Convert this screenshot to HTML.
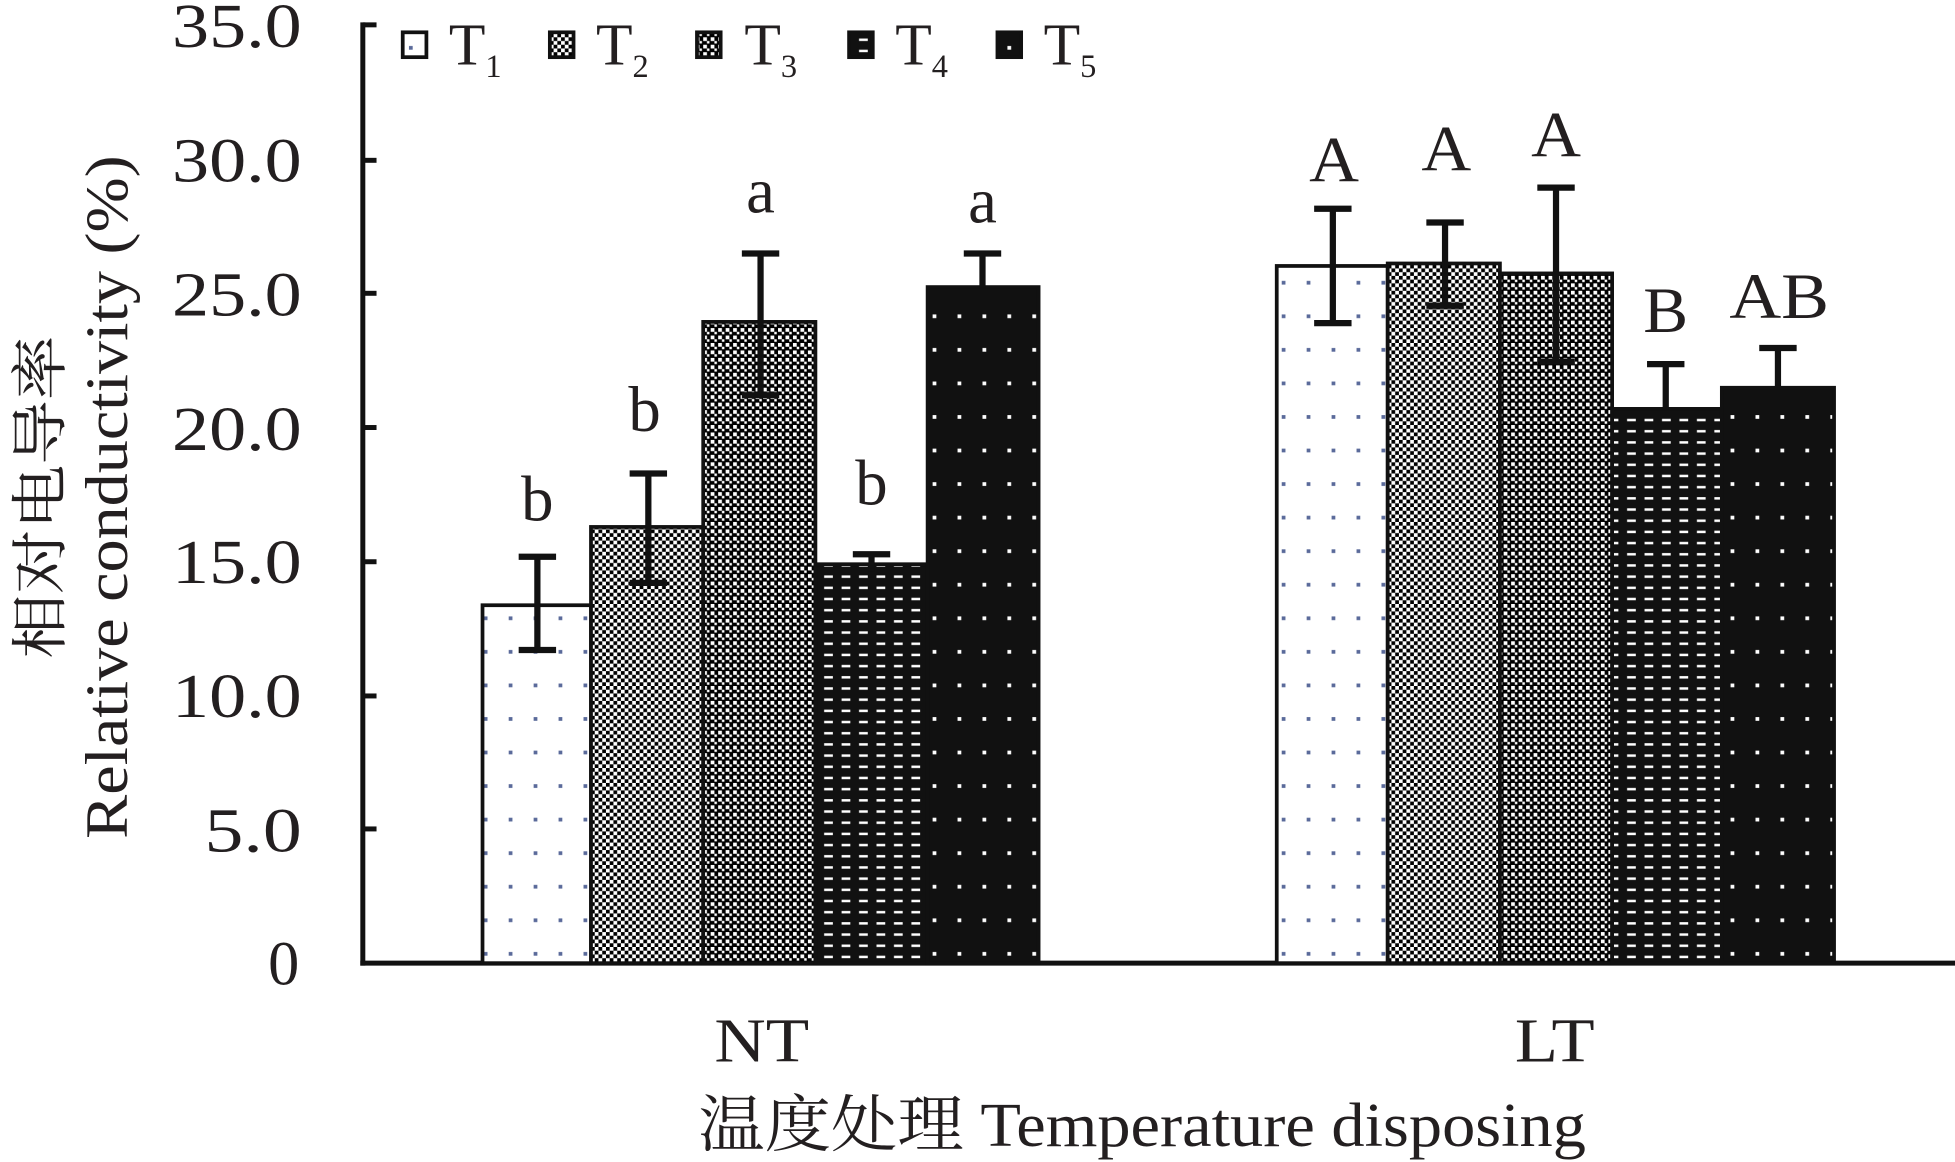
<!DOCTYPE html>
<html><head><meta charset="utf-8"><style>
html,body{margin:0;padding:0;background:#fff;width:1955px;height:1162px;overflow:hidden}
svg{display:block}
text{font-family:"Liberation Serif","Noto Serif CJK SC",serif;fill:#231f20}
</style></head><body>
<svg width="1955" height="1162" viewBox="0 0 1568 935" preserveAspectRatio="none" xmlns="http://www.w3.org/2000/svg">
<defs>
<pattern id="p1" width="20" height="27" patternUnits="userSpaceOnUse"><rect width="20" height="27" fill="#fff"/><rect x="8" y="10" width="3" height="3" fill="#5a6a9a"/></pattern>
<pattern id="p2" width="6" height="6" patternUnits="userSpaceOnUse"><rect width="6" height="6" fill="#fff"/><rect width="3" height="3" fill="#000"/><rect x="3" y="3" width="3" height="3" fill="#000"/></pattern>
<pattern id="p3" width="6" height="6" patternUnits="userSpaceOnUse"><rect width="6" height="6" fill="#000"/><rect width="3" height="3" fill="#fff"/><rect x="3" y="3" width="2" height="2" fill="#fff"/></pattern>
<pattern id="p4" width="14" height="9" patternUnits="userSpaceOnUse"><rect width="14" height="9" fill="#111"/><rect x="3" y="4" width="7" height="2" fill="#fff"/></pattern>
<pattern id="p5" width="20" height="27" patternUnits="userSpaceOnUse"><rect width="20" height="27" fill="#111"/><rect x="8" y="10" width="3" height="3" fill="#fff"/></pattern>
</defs>
<line x1="291" y1="18" x2="291" y2="777" stroke="#111" stroke-width="4"/>
<line x1="289" y1="775" x2="1568" y2="775" stroke="#111" stroke-width="4"/>
<g stroke="#111" stroke-width="4">
<line x1="291" y1="20" x2="302" y2="20"/><line x1="291" y1="129" x2="302" y2="129"/><line x1="291" y1="236" x2="302" y2="236"/><line x1="291" y1="344" x2="302" y2="344"/><line x1="291" y1="452" x2="302" y2="452"/><line x1="291" y1="560" x2="302" y2="560"/><line x1="291" y1="667" x2="302" y2="667"/>
</g>
<g font-size="50" text-anchor="end">
<text x="242" y="38" textLength="104" lengthAdjust="spacingAndGlyphs">35.0</text><text x="242" y="146" textLength="104" lengthAdjust="spacingAndGlyphs">30.0</text><text x="242" y="254" textLength="104" lengthAdjust="spacingAndGlyphs">25.0</text><text x="242" y="362" textLength="104" lengthAdjust="spacingAndGlyphs">20.0</text><text x="242" y="469" textLength="104" lengthAdjust="spacingAndGlyphs">15.0</text><text x="242" y="577" textLength="104" lengthAdjust="spacingAndGlyphs">10.0</text><text x="242" y="685" textLength="78" lengthAdjust="spacingAndGlyphs">5.0</text><text x="240" y="792">0</text>
</g>
<text transform="translate(48,400) rotate(-90)" font-size="46" text-anchor="middle" textLength="260" lengthAdjust="spacingAndGlyphs">相对电导率</text>
<text transform="translate(102,400) rotate(-90)" font-size="48" text-anchor="middle" textLength="550" lengthAdjust="spacingAndGlyphs">Relative conductivity (%)</text>
<g stroke="#111" stroke-width="3">
<rect x="387" y="487" width="87" height="288" fill="url(#p1)"/>
<rect x="474" y="424" width="90" height="351" fill="url(#p2)"/>
<rect x="564" y="259" width="90" height="516" fill="url(#p3)"/>
<rect x="654" y="454" width="90" height="321" fill="url(#p4)"/>
<rect x="744" y="231" width="89" height="544" fill="url(#p5)"/>
<rect x="1024" y="214" width="89" height="561" fill="url(#p1)"/>
<rect x="1113" y="212" width="90" height="563" fill="url(#p2)"/>
<rect x="1203" y="220" width="90" height="555" fill="url(#p3)"/>
<rect x="1293" y="329" width="88" height="446" fill="url(#p4)"/>
<rect x="1381" y="312" width="90" height="463" fill="url(#p5)"/>
</g>
<g stroke="#111" stroke-width="5" fill="none">
<path d="M431 448V523M416 448H446M416 523H446"/>
<path d="M520 381V469M505 381H535M505 469H535"/>
<path d="M610 204V318M595 204H625M595 318H625"/>
<path d="M699 446V460M684 446H714"/>
<path d="M788 204V231M773 204H803"/>
<path d="M1069 168V260M1054 168H1084M1054 260H1084"/>
<path d="M1159 179V246M1144 179H1174M1144 246H1174"/>
<path d="M1248 151V291M1233 151H1263M1233 291H1263"/>
<path d="M1336 293V330M1321 293H1351"/>
<path d="M1426 280V313M1411 280H1441"/>
</g>
<g font-size="52" text-anchor="middle">
<text x="431" y="419">b</text><text x="517" y="347">b</text><text x="610" y="171">a</text><text x="699" y="406">b</text><text x="788" y="179">a</text>
<text x="1070" y="146" textLength="40" lengthAdjust="spacingAndGlyphs">A</text><text x="1160" y="137" textLength="40" lengthAdjust="spacingAndGlyphs">A</text><text x="1248" y="126" textLength="40" lengthAdjust="spacingAndGlyphs">A</text><text x="1336" y="267" textLength="36" lengthAdjust="spacingAndGlyphs">B</text><text x="1427" y="256" textLength="80" lengthAdjust="spacingAndGlyphs">AB</text>
</g>
<g stroke="#111" stroke-width="3">
<rect x="323" y="26" width="19" height="20" fill="url(#p1)"/>
<rect x="441" y="26" width="19" height="20" fill="url(#p2)"/>
<rect x="559" y="26" width="19" height="20" fill="url(#p3)"/>
<rect x="681" y="26" width="19" height="20" fill="url(#p4)"/>
<rect x="800" y="26" width="19" height="20" fill="url(#p5)"/>
</g>
<g font-size="48">
<text x="360" y="52">T<tspan font-size="26" dy="10">1</tspan></text>
<text x="478" y="52">T<tspan font-size="26" dy="10">2</tspan></text>
<text x="597" y="52">T<tspan font-size="26" dy="10">3</tspan></text>
<text x="718" y="52">T<tspan font-size="26" dy="10">4</tspan></text>
<text x="837" y="52">T<tspan font-size="26" dy="10">5</tspan></text>
</g>
<g font-size="50" text-anchor="middle">
<text x="611" y="854" textLength="76" lengthAdjust="spacingAndGlyphs">NT</text><text x="1247" y="854" textLength="64" lengthAdjust="spacingAndGlyphs">LT</text>
<text x="916" y="922" textLength="712" lengthAdjust="spacingAndGlyphs">温度处理 Temperature disposing</text>
</g>
</svg>
</body></html>
